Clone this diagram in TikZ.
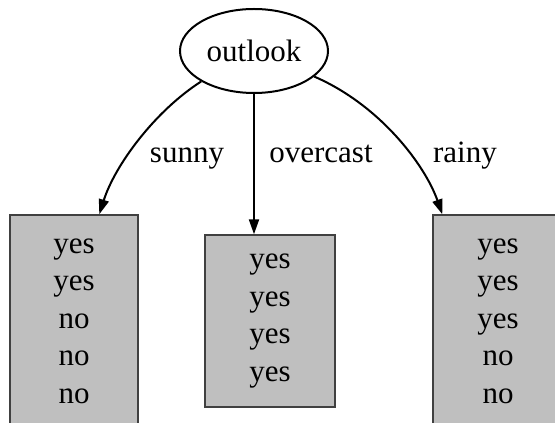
\documentclass[tikz,border=0pt]{standalone}
\usepackage{fontspec}
\setmainfont{Liberation Serif}
\usetikzlibrary{arrows.meta,shapes.geometric,calc}
\begin{document}
\begin{tikzpicture}[x=1pt,y=1pt,
 lbl/.style={font=\fontsize{31}{37.5}\selectfont},
 leaf/.style={draw=black!75, fill=black!25, line width=1.4pt, align=center, inner sep=0pt, font=\fontsize{31}{37.5}\selectfont},
 edge/.style={-{Triangle[length=15pt,width=10pt]}, line width=2pt}]
\useasboundingbox (0,0) rectangle (555,423);
\clip (0,0) rectangle (555,423);
\node[ellipse, draw, line width=2pt, minimum width=148pt, minimum height=84pt, inner sep=0pt, lbl] (o) at (254,372) {outlook};
\node[leaf, minimum width=128pt, minimum height=212pt] (s) at (74,102) {yes\\yes\\no\\no\\no};
\node[leaf, minimum width=130pt, minimum height=172pt] (m) at (270,102) {yes\\yes\\yes\\yes};
\node[leaf, minimum width=130pt, minimum height=212pt] (r) at (498,102) {yes\\yes\\yes\\no\\no};
\draw[edge] (o.210) .. controls (155,312) and (115,258) .. ($(s.north west)+(90,0)$);
\draw[edge] (o.south) -- (o.south |- m.north);
\draw[edge] (o.-23) .. controls (380,318) and (425,258) .. ($(r.north west)+(10,0)$);
\node[lbl, anchor=base] (ls) at (187,260) {sunny};
\node[lbl, anchor=base] (lo) at (321,260) {overcast};
\node[lbl, anchor=base] (lr) at (465,260) {rainy};
\end{tikzpicture}
\end{document}
